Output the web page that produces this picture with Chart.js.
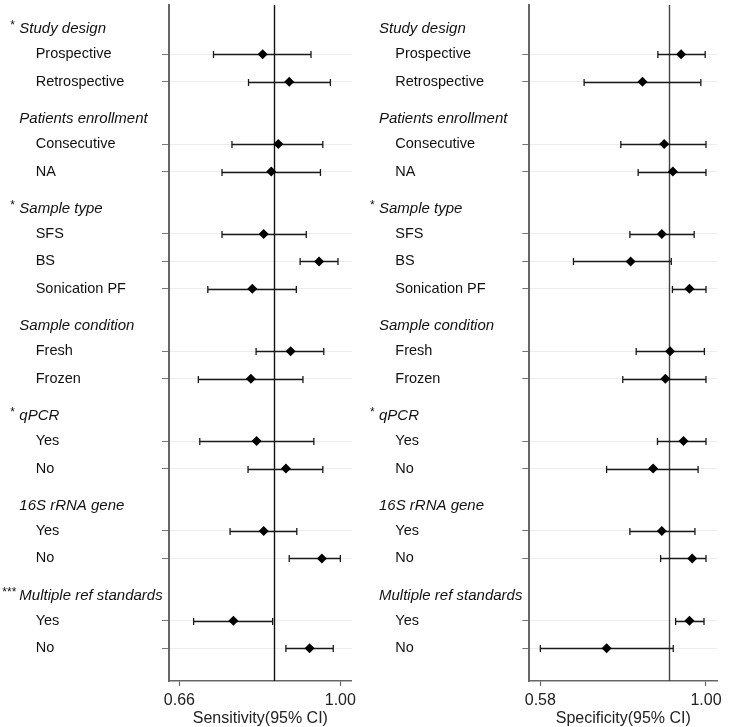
<!DOCTYPE html>
<html>
<head>
<meta charset="utf-8">
<script src="https://cdn.jsdelivr.net/npm/chart.js@4.4.1/dist/chart.umd.min.js"></script>
<style>
html, body { margin: 0; padding: 0; background: #fff; }
#wrap { position: relative; width: 750px; height: 727px; }
canvas { position: absolute; top: 0; }
</style>
</head>
<body>
<div id="wrap">
  <canvas id="sens" width="365" height="727" style="left:0"></canvas>
  <canvas id="spec" width="385" height="727" style="left:365px"></canvas>
</div>
<script>
// subgroups
var groups = ["Study design", "Patients enrollment", "Sample type", "Sample condition", "qPCR", "16S rRNA gene", "Multiple ref standards"];
var items = [
    ["Prospective", "Retrospective"],
    ["Consecutive", "NA"],
    ["SFS", "BS", "Sonication PF"],
    ["Fresh", "Frozen"],
    ["Yes", "No"],
    ["Yes", "No"],
    ["Yes", "No"]
];
var sensStars = ["*", "", "*", "", "*", "", "***"];
var specStars = ["", "", "*", "", "*", "", ""];

// sensitivity (95% CI)
var sensEst  = [0.836, 0.892, 0.869, 0.854, 0.838, 0.955, 0.814, 0.895, 0.811, 0.823, 0.885, 0.838, 0.961, 0.774, 0.935];
var sensLow  = [0.732, 0.806, 0.771, 0.750, 0.750, 0.915, 0.720, 0.822, 0.700, 0.703, 0.805, 0.767, 0.892, 0.690, 0.885];
var sensHigh = [0.938, 0.979, 0.963, 0.958, 0.928, 0.995, 0.907, 0.965, 0.921, 0.944, 0.963, 0.908, 1.000, 0.857, 0.985];
var sensPooled = 0.86;
var sensTicks = [0.66, 1.00];

// specificity (95% CI)
var specEst  = [0.937, 0.839, 0.894, 0.916, 0.888, 0.809, 0.958, 0.909, 0.897, 0.943, 0.866, 0.888, 0.965, 0.958, 0.748];
var specLow  = [0.878, 0.691, 0.784, 0.828, 0.807, 0.664, 0.915, 0.823, 0.789, 0.877, 0.748, 0.807, 0.885, 0.923, 0.580];
var specHigh = [0.998, 0.987, 1.000, 1.000, 0.970, 0.912, 1.000, 0.996, 1.000, 1.000, 0.980, 0.972, 1.000, 0.995, 0.917];
var specPooled = 0.905;
var specTicks = [0.58, 1.00];

var FONT = "'Liberation Sans', Arial, sans-serif";

// row layout: header, then items, then a small gap
var rows = [];
var pos = 0;
groups.forEach(function (g, gi) {
    rows.push({ head: true, text: g, gi: gi, y: pos });
    items[gi].forEach(function (it) {
        pos += 1;
        rows.push({ head: false, text: it, y: pos });
    });
    pos += 1.27;
});
var itemPos = rows.filter(function (r) { return !r.head; }).map(function (r) { return r.y; });

function make_forest(id, est, low, high, pooled, ticks, stars, title, g) {
    var forest = {
        id: "forest",
        beforeDatasetsDraw: function (chart) {
            var ctx = chart.ctx, x = chart.scales.x, y = chart.scales.y, a = chart.chartArea;
            ctx.save();
            ctx.strokeStyle = g.pooledColor;
            ctx.lineWidth = 1.4;
            var px = Math.round(x.getPixelForValue(pooled)) + 0.5;
            ctx.beginPath();
            ctx.moveTo(px, a.top);
            ctx.lineTo(px, a.bottom);
            ctx.stroke();

            ctx.strokeStyle = "#1a1a1a";
            ctx.lineWidth = 1.3;
            low.forEach(function (lo, i) {
                var yy = Math.round(y.getPixelForValue(itemPos[i])) + 0.5;
                var x1 = x.getPixelForValue(lo), x2 = x.getPixelForValue(high[i]);
                ctx.beginPath();
                ctx.moveTo(x1, yy); ctx.lineTo(x2, yy);
                ctx.moveTo(x1, yy - 3.5); ctx.lineTo(x1, yy + 3.5);
                ctx.moveTo(x2, yy - 3.5); ctx.lineTo(x2, yy + 3.5);
                ctx.stroke();
            });
            ctx.restore();
        },
        afterDraw: function (chart) {
            var ctx = chart.ctx, y = chart.scales.y;
            ctx.save();
            ctx.fillStyle = "#111";
            ctx.textBaseline = "middle";
            ctx.textAlign = "left";
            rows.forEach(function (r) {
                var yy = y.getPixelForValue(r.y);
                if (r.head) {
                    yy += 2;
                    ctx.font = "italic 15px " + FONT;
                    ctx.fillText(r.text, g.headX, yy);
                    if (stars[r.gi]) {
                        ctx.font = "12px " + FONT;
                        ctx.textBaseline = "top";
                        ctx.fillText(stars[r.gi], stars[r.gi].length > 1 ? g.headX - 17 : g.headX - 9, yy - 9);
                        ctx.textBaseline = "middle";
                    }
                } else {
                    ctx.font = "14.5px " + FONT;
                    ctx.fillText(r.text, g.itemX, yy);
                }
            });
            ctx.restore();
        }
    };

    var data = {
        datasets: [{
            data: est.map(function (v, i) { return { x: v, y: itemPos[i] }; }),
            pointStyle: "rectRot",
            pointRadius: 5,
            pointHoverRadius: 5,
            backgroundColor: "#000",
            borderWidth: 0,
            showLine: false
        }]
    };

    var options = {
        responsive: false,
        animation: false,
        events: [],
        layout: { padding: { left: 0, top: 4, right: g.padRight, bottom: 0 } },
        plugins: { legend: { display: false }, tooltip: { enabled: false } },
        scales: {
            x: {
                type: "linear",
                min: g.xMin,
                max: g.xMax,
                afterBuildTicks: function (s) { s.ticks = ticks.map(function (v) { return { value: v }; }); },
                afterFit: function (s) { s.height = 46; },
                ticks: {
                    callback: function (v) { return Number(v).toFixed(2); },
                    font: { family: FONT, size: 16 },
                    color: "#222",
                    padding: 5,
                    maxRotation: 0
                },
                grid: { drawOnChartArea: false, tickLength: 5, tickColor: "#666", tickWidth: 1.2 },
                border: { color: "#666", width: 1.5 },
                title: {
                    display: true,
                    text: title,
                    font: { family: FONT, size: 16, lineHeight: 1 },
                    color: "#222",
                    padding: { top: 0, bottom: 0 }
                }
            },
            y: {
                type: "linear",
                reverse: true,
                min: -0.79,
                max: 23.81,
                afterBuildTicks: function (s) { s.ticks = itemPos.map(function (v) { return { value: v }; }); },
                afterFit: function (s) { s.width = g.plotLeft; },
                ticks: { display: false },
                grid: { color: "#ececec", lineWidth: 1, tickLength: 7, tickColor: "#777", tickWidth: 1 },
                border: { color: "#666", width: 2 }
            }
        }
    };

    var ctx = document.getElementById(id).getContext("2d");
    return new Chart(ctx, { type: "scatter", data: data, options: options, plugins: [forest] });
}

make_forest("sens", sensEst, sensLow, sensHigh, sensPooled, sensTicks, sensStars, "Sensitivity(95% CI)",
    { plotLeft: 169, padRight: 13.3, xMin: 0.638, xMax: 1.024, headX: 19.3, itemX: 35.7, pooledColor: "#111" });
make_forest("spec", specEst, specLow, specHigh, specPooled, specTicks, specStars, "Specificity(95% CI)",
    { plotLeft: 164.3, padRight: 32.7, xMin: 0.552, xMax: 1.0287, headX: 14, itemX: 30.3, pooledColor: "#444" });
</script>
</body>
</html>
